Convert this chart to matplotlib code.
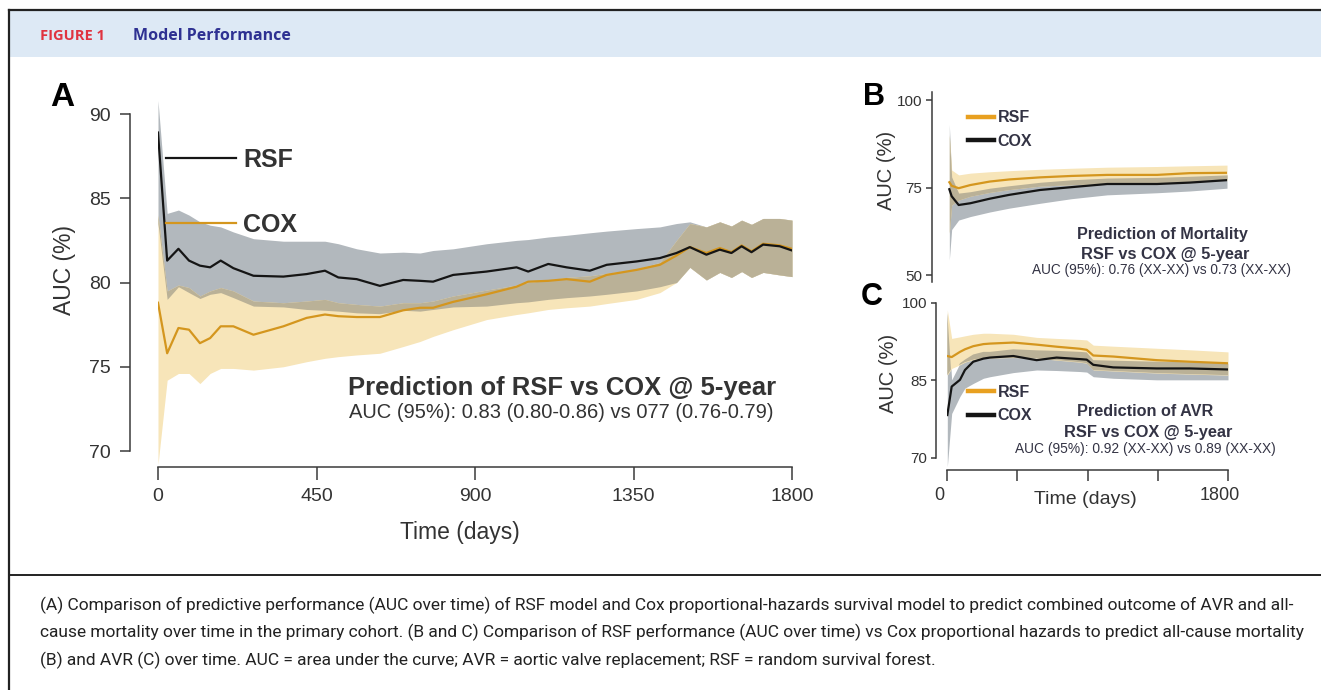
import matplotlib
matplotlib.use('Agg')
import numpy as np
import matplotlib.pyplot as plt
from matplotlib.font_manager import findfont, FontProperties
from matplotlib.transforms import ScaledTranslation
from matplotlib.patches import Rectangle
from matplotlib.lines import Line2D

W, H = 1321, 690

# ── Panel A: combined outcome (AVR + all-cause mortality) ─────────────────────
t_a = [0, 26, 58, 88, 119, 148, 178, 214, 271, 356, 422, 474, 512, 564, 630,
       696, 744, 781, 838, 933, 1018, 1051, 1108, 1160, 1226, 1274, 1359, 1425,
       1472, 1510, 1557, 1595, 1628, 1657, 1685, 1718, 1765, 1800]
rsf_a = [88.9, 81.3, 82.0, 81.3, 81.0, 80.9, 81.3, 80.85, 80.4, 80.35, 80.5,
         80.7, 80.3, 80.2, 79.8, 80.15, 80.1, 80.05, 80.45, 80.65, 80.9, 80.65,
         81.1, 80.9, 80.7, 81.05, 81.25, 81.45, 81.75, 82.1, 81.65, 81.95,
         81.75, 82.15, 81.8, 82.25, 82.15, 81.9]
cox_a = [78.8, 75.8, 77.3, 77.2, 76.4, 76.7, 77.4, 77.4, 76.9, 77.4, 77.9,
         78.1, 78.0, 77.95, 77.95, 78.35, 78.5, 78.5, 78.85, 79.3, 79.75, 80.05,
         80.1, 80.2, 80.05, 80.45, 80.75, 81.05, 81.6, 82.1, 81.75, 82.05,
         81.8, 82.2, 81.85, 82.3, 82.2, 82.0]
rsf_hi_a = [90.8, 84.1, 84.3, 84.0, 83.6, 83.4, 83.3, 83.0, 82.6, 82.45, 82.45,
            82.45, 82.3, 82.0, 81.75, 81.8, 81.75, 81.9, 82.0, 82.3, 82.5, 82.55,
            82.7, 82.8, 82.95, 83.05, 83.2, 83.3, 83.5, 83.6, 83.3, 83.6,
            83.35, 83.7, 83.45, 83.8, 83.8, 83.7]
rsf_lo_a = [83.5, 79.0, 79.75, 79.4, 79.05, 79.3, 79.4, 79.1, 78.6, 78.55, 78.4,
            78.35, 78.3, 78.2, 78.15, 78.35, 78.3, 78.4, 78.55, 78.6, 78.8, 78.85,
            79.0, 79.1, 79.2, 79.3, 79.5, 79.75, 80.0, 80.9, 80.15, 80.6,
            80.3, 80.65, 80.3, 80.6, 80.45, 80.35]
cox_hi_a = [84.0, 79.5, 79.85, 79.7, 79.2, 79.5, 79.7, 79.5, 78.9, 78.8, 78.9,
            79.0, 78.8, 78.7, 78.6, 78.8, 78.8, 78.9, 79.2, 79.55, 79.85, 80.0,
            80.15, 80.3, 80.4, 80.55, 80.8, 81.2, 82.5, 83.5, 83.3, 83.6,
            83.35, 83.7, 83.45, 83.8, 83.8, 83.7]
cox_lo_a = [69.2, 74.2, 74.6, 74.6, 74.0, 74.6, 74.9, 74.9, 74.8, 75.0, 75.3,
            75.5, 75.6, 75.7, 75.8, 76.2, 76.5, 76.8, 77.2, 77.8, 78.1, 78.2,
            78.4, 78.5, 78.6, 78.75, 79.0, 79.4, 80.0, 80.9, 80.15, 80.6,
            80.3, 80.65, 80.3, 80.6, 80.45, 80.35]

# ── Panel B: mortality ────────────────────────────────────────────────────────
t_b = [15, 30, 75, 150, 275, 400, 600, 800, 1030, 1350, 1560, 1800]
rsf_b = [76.5, 75.5, 74.8, 75.7, 76.7, 77.3, 77.9, 78.3, 78.6, 78.6, 79.1, 79.2]
cox_b = [74.5, 72.5, 70.0, 70.5, 71.8, 72.9, 74.3, 75.1, 76.0, 76.0, 76.4, 77.1]
rsf_hi_b = [90.0, 80.0, 78.6, 79.1, 79.5, 79.8, 80.2, 80.5, 80.8, 81.0, 81.2, 81.4]
rsf_lo_b = [62.0, 70.0, 71.4, 72.5, 73.6, 74.4, 75.4, 75.8, 76.1, 76.2, 76.6, 77.1]
cox_hi_b = [93.0, 78.0, 73.4, 73.8, 74.8, 75.5, 76.5, 77.2, 77.7, 77.9, 78.2, 78.6]
cox_lo_b = [54.3, 63.0, 65.7, 66.7, 68.0, 69.1, 70.5, 71.8, 72.9, 73.5, 74.0, 74.8]

# ── Panel C: AVR ──────────────────────────────────────────────────────────────
t_c = [2, 30, 83, 115, 168, 233, 275, 425, 574, 702, 852, 895, 937, 1065,
       1343, 1556, 1800]
rsf_c = [89.7, 89.5, 90.5, 91.0, 91.6, 92.0, 92.1, 92.3, 91.9, 91.5, 91.1,
         90.9, 89.8, 89.6, 88.9, 88.6, 88.3]
cox_c = [78.3, 83.8, 85.1, 87.0, 88.6, 89.2, 89.4, 89.7, 88.9, 89.4, 89.1,
         89.0, 88.0, 87.5, 87.3, 87.3, 87.1]
rsf_hi_c = [98.6, 93.1, 93.4, 93.6, 93.9, 94.1, 94.1, 93.9, 93.3, 93.1, 92.9,
            92.8, 91.8, 91.6, 91.2, 90.9, 90.5]
rsf_lo_c = [86.0, 87.3, 88.0, 88.5, 89.0, 89.3, 89.3, 89.4, 89.3, 88.9, 88.5,
            88.3, 87.0, 86.8, 86.4, 86.2, 86.0]
cox_hi_c = [98.0, 85.1, 88.3, 89.0, 90.0, 90.5, 90.5, 91.0, 90.8, 90.7, 90.5,
            90.4, 88.9, 88.8, 88.6, 88.5, 88.3]
cox_lo_c = [68.3, 78.6, 81.9, 83.5, 84.4, 85.4, 85.7, 86.5, 87.0, 86.9, 86.7,
            86.6, 85.7, 85.4, 85.1, 85.1, 85.1]

x_ticks = [0, 450, 900, 1350, 1800]
x_ticklabels_c = ['0', '', '', '', '1800']

caption = [
    "(A) Comparison of predictive performance (AUC over time) of RSF model and "
    "Cox proportional-hazards survival model to predict combined outcome of AVR and all-",
    "cause mortality over time in the primary cohort. (B and C) Comparison of RSF "
    "performance (AUC over time) vs Cox proportional hazards to predict all-cause mortality",
    "(B) and AVR (C) over time. AUC = area under the curve; AVR = aortic valve "
    "replacement; RSF = random survival forest.",
]

GRAY = '#b2b8bd'     # band of the "gray" model only
YEL = '#f7e5b9'      # band of the "yellow" model only
KHAKI = '#bab197'    # where both bands overlap
BLACK = '#151515'
ORANGE = '#d4961e'
TXT = '#333333'
AX = '#3a3a3a'


def pick_font(*names):
    for n in names:
        try:
            findfont(FontProperties(family=n), fallback_to_default=False)
            return n
        except ValueError:
            pass
    return 'DejaVu Sans'


CHART_FONT = pick_font('Liberation Sans', 'Arial')
CAP_FONT = pick_font('Liberation Sans Narrow', 'Roboto', 'Open Sans')
HEAD_FONT = pick_font('Open Sans', 'Noto Sans')
plt.rcParams['font.family'] = CHART_FONT

fig = plt.figure(figsize=(W / 100, H / 100), dpi=100)
renderer = fig.canvas.get_renderer()


def fx(x):
    return x / W


def fy(y):
    return 1 - y / H


def pt(px):
    return px * 0.72


def panel_axes(tmap, vmap, xlim, ylim):
    (t0, x0), (t1, x1) = tmap
    (v0, y0), (v1, y1) = vmap
    sx = (x1 - x0) / (t1 - t0)
    sy = (y1 - y0) / (v1 - v0)
    left = x0 + (xlim[0] - t0) * sx
    right = x0 + (xlim[1] - t0) * sx
    top = y0 + (ylim[1] - v0) * sy
    bot = y0 + (ylim[0] - v0) * sy
    ax = fig.add_axes([left / W, 1 - bot / H, (right - left) / W, (bot - top) / H])
    ax.set_xlim(*xlim)
    ax.set_ylim(*ylim)
    ax.patch.set_alpha(0)
    for s in ('top', 'right'):
        ax.spines[s].set_visible(False)
    for s in ('left', 'bottom'):
        ax.spines[s].set_color(AX)
        ax.spines[s].set_linewidth(1.1)
    return ax


def fit(txt, width_px):
    w = txt.get_window_extent(renderer).width
    txt.set_fontsize(txt.get_fontsize() * width_px / w)


def bands(ax, t, gray_lo, gray_hi, yel_lo, yel_hi):
    ax.fill_between(t, gray_lo, gray_hi, color=GRAY, lw=0, zorder=1)
    ax.fill_between(t, yel_lo, yel_hi, color=YEL, lw=0, zorder=1)
    lo = np.maximum(gray_lo, yel_lo)
    hi = np.minimum(gray_hi, yel_hi)
    ax.fill_between(t, lo, hi, where=hi > lo, interpolate=True,
                    color=KHAKI, lw=0, zorder=2)


# ── Frame, header band, caption ───────────────────────────────────────────────
fig.add_artist(Rectangle((fx(9.5), fy(57)), 1, fy(10.5) - fy(57),
                         transform=fig.transFigure, color='#dde9f5', lw=0))
fig.add_artist(Line2D([fx(9), 1], [fy(10), fy(10)], color='#222', lw=1.6))
fig.add_artist(Line2D([fx(9), fx(9)], [fy(10), 0], color='#222', lw=1.6))
fig.add_artist(Line2D([fx(9), 1], [fy(575), fy(575)], color='#222', lw=1.4))

fig.text(fx(40), fy(36), 'FIGURE 1', color='#e03340', fontsize=10.5,
         fontweight='bold', family=HEAD_FONT, va='center')
fig.text(fx(133), fy(36), 'Model Performance', color='#2e3192', fontsize=11.5,
         fontweight='bold', family=HEAD_FONT, va='center')

cap0 = fig.text(fx(40), fy(605), caption[0], color='#222', fontsize=11,
                family=CAP_FONT, va='center')
fit(cap0, 1250)
for i, line in enumerate(caption[1:], start=1):
    fig.text(fx(40), fy(605 + 27.5 * i), line, color='#222',
             fontsize=cap0.get_fontsize(), family=CAP_FONT, va='center')

# ── Panel A ───────────────────────────────────────────────────────────────────
axA = panel_axes(((0, 158), (1800, 792)), ((90, 114), (70, 451)), (0, 1800), (69.05, 91.2))
bands(axA, t_a, rsf_lo_a, rsf_hi_a, cox_lo_a, cox_hi_a)
lA1, = axA.plot(t_a, rsf_a, color=BLACK, lw=1.6, zorder=4, label='RSF')
lA2, = axA.plot(t_a, cox_a, color=ORANGE, lw=1.6, zorder=3, label='COX')
axA.spines['left'].set_position(('outward', pt(28)))
axA.spines['left'].set_bounds(70, 90)
axA.spines['bottom'].set_bounds(0, 1800)
axA.set_yticks([70, 75, 80, 85, 90])
axA.set_xticks(x_ticks)
axA.tick_params(axis='y', length=pt(10), width=1.1, color=AX, pad=pt(9),
                labelsize=14, labelcolor=TXT)
axA.tick_params(axis='x', length=pt(13), width=1.1, color=AX, pad=pt(8),
                labelsize=14, labelcolor=TXT)
leg = axA.legend(handles=[lA1, lA2], loc='center left', frameon=False,
                 bbox_to_anchor=(fx(166), fy(192.5)), bbox_transform=fig.transFigure,
                 borderpad=0, borderaxespad=0, handlelength=2.8, handletextpad=0.3,
                 labelspacing=1.65, prop={'size': 18, 'weight': 'bold'})
for txt in leg.get_texts():
    txt.set_color(TXT)

fig.text(fx(65), fy(270), 'AUC (%)', rotation=90, fontsize=16.5, color=TXT,
         ha='center', va='center')
fig.text(fx(460), fy(533), 'Time (days)', fontsize=16.5, color=TXT,
         ha='center', va='center')
fig.text(fx(62), fy(97), 'A', fontsize=24, fontweight='bold', color='black',
         ha='center', va='center')
tA = fig.text(fx(562), fy(388), 'Prediction of RSF vs COX @ 5-year', fontsize=17,
              fontweight='bold', color=TXT, ha='center', va='center')
fit(tA, 428)
tA2 = fig.text(fx(561), fy(413), 'AUC (95%): 0.83 (0.80-0.86) vs 077 (0.76-0.79)',
               fontsize=13, color=TXT, ha='center', va='center')
fit(tA2, 424)

# ── Panel B ───────────────────────────────────────────────────────────────────
axB = panel_axes(((0, 947), (1800, 1227)), ((100, 100), (50, 275)), (0, 1800), (48.0, 102.3))
bands(axB, t_b, cox_lo_b, cox_hi_b, rsf_lo_b, rsf_hi_b)
axB.plot(t_b, cox_b, color=BLACK, lw=1.6, zorder=4)
axB.plot(t_b, rsf_b, color=ORANGE, lw=1.6, zorder=3)
axB.spines['bottom'].set_visible(False)
axB.spines['left'].set_position(('outward', pt(15)))
axB.set_xticks([])
axB.set_yticks([50, 75, 100])
axB.tick_params(axis='y', length=pt(6), width=1.1, color=AX, pad=pt(4),
                labelsize=11, labelcolor=TXT)

# ── Panel C ───────────────────────────────────────────────────────────────────
axC = panel_axes(((0, 947), (1800, 1228)), ((100, 302.7), (70, 458)), (0, 1800), (67.6, 100.5))
bands(axC, t_c, cox_lo_c, cox_hi_c, rsf_lo_c, rsf_hi_c)
axC.plot(t_c, cox_c, color=BLACK, lw=1.6, zorder=4)
axC.plot(t_c, rsf_c, color=ORANGE, lw=1.6, zorder=3)
axC.spines['left'].set_position(('outward', pt(11)))
axC.spines['left'].set_bounds(70, 100)
axC.spines['bottom'].set_bounds(0, 1800)
axC.set_yticks([70, 85, 100])
axC.set_xticks(x_ticks)
axC.set_xticklabels(x_ticklabels_c)
axC.tick_params(axis='y', length=pt(5), width=1.1, color=AX, pad=pt(4),
                labelsize=11, labelcolor=TXT)
axC.tick_params(axis='x', length=pt(11), width=1.1, color=AX, pad=pt(6),
                labelsize=13, labelcolor=TXT)
shift = ScaledTranslation(-0.08, 0, fig.dpi_scale_trans)
for lab in axC.get_xticklabels():
    lab.set_transform(lab.get_transform() + shift)

# B/C legends and texts
handles = [Line2D([], [], color='#e8a020', lw=3.2), Line2D([], [], color=BLACK, lw=3.2)]
for ax, cy in ((axB, 129.5), (axC, 404)):
    lg = ax.legend(handles, ['RSF', 'COX'], loc='center left', frameon=False,
                   bbox_to_anchor=(fx(968), fy(cy)), bbox_transform=fig.transFigure,
                   borderpad=0, borderaxespad=0, handlelength=1.6, handletextpad=0.25,
                   labelspacing=0.55, prop={'size': 11.5, 'weight': 'bold'})
    for txt in lg.get_texts():
        txt.set_color('#333344')

for x, y, s in ((874, 97, 'B'), (872, 297, 'C')):
    fig.text(fx(x), fy(y), s, fontsize=22, fontweight='bold', color='black',
             ha='center', va='center')
fig.text(fx(887), fy(170), 'AUC (%)', rotation=90, fontsize=14.5, color=TXT,
         ha='center', va='center')
fig.text(fx(889), fy(373), 'AUC (%)', rotation=90, fontsize=14.5, color=TXT,
         ha='center', va='center')
fig.text(fx(1085), fy(500), 'Time (days)', fontsize=14, color=TXT,
         ha='center', va='center')

blocks = [
    ((1162, 235, 'Prediction of Mortality', 171, True),
     (1165, 255, 'RSF vs COX @ 5-year', 168, True),
     (1162, 270, 'AUC (95%): 0.76 (XX-XX) vs 0.73 (XX-XX)', 257, False)),
    ((1145, 412, 'Prediction of AVR', 136, True),
     (1148, 432, 'RSF vs COX @ 5-year', 169, True),
     (1145, 449, 'AUC (95%): 0.92 (XX-XX) vs 0.89 (XX-XX)', 260, False)),
]
for block in blocks:
    for x, y, s, w, bold in block:
        t = fig.text(fx(x), fy(y), s, fontsize=11, color='#333344',
                     fontweight='bold' if bold else 'normal', ha='center', va='center')
        fit(t, w)

fig.savefig('out.png', dpi=100)
